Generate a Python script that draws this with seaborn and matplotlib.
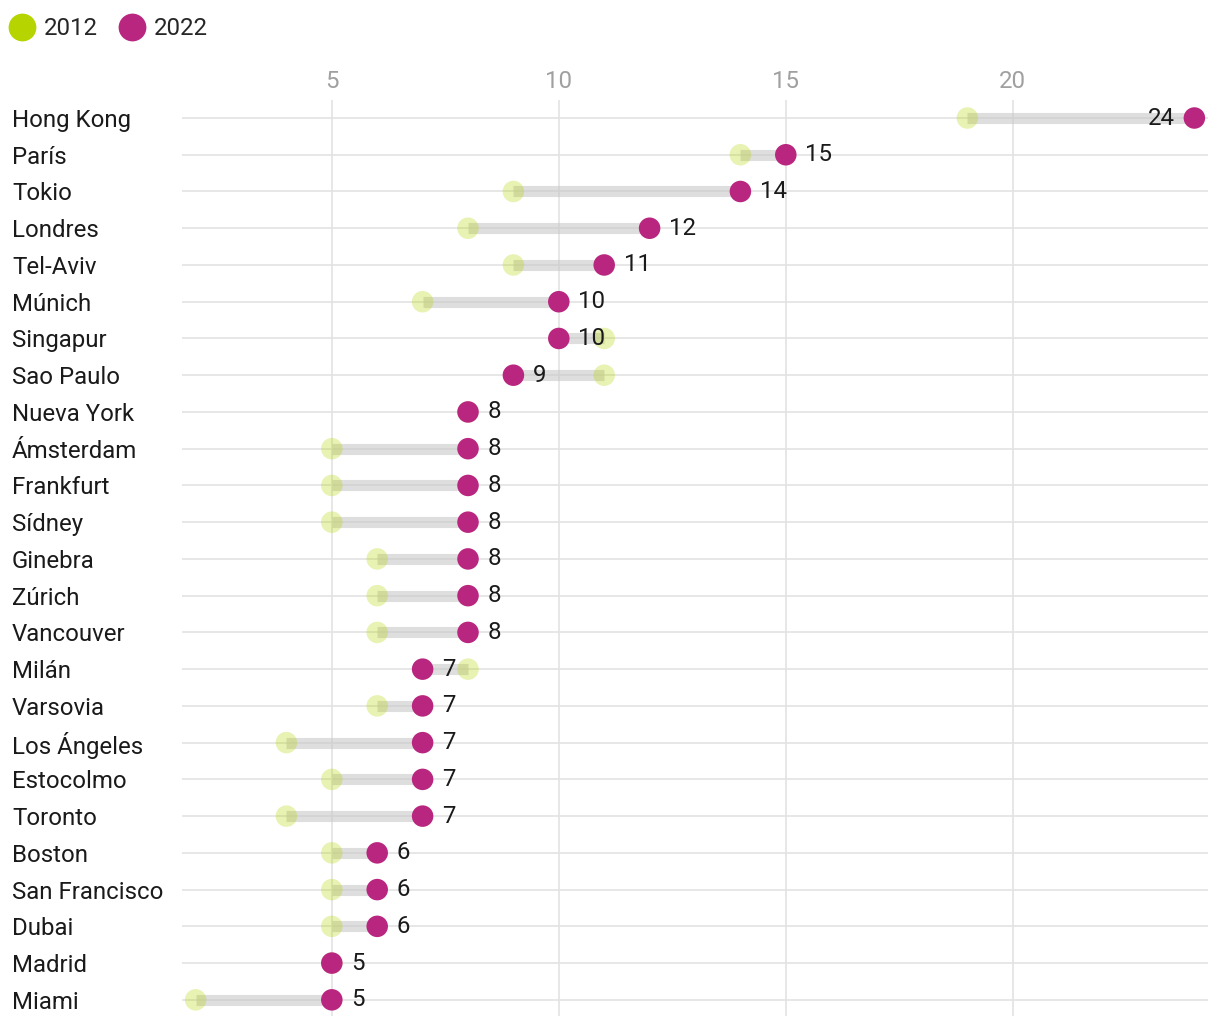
import matplotlib
matplotlib.use("Agg")
import matplotlib.pyplot as plt
from matplotlib.lines import Line2D
import seaborn as sns
import pandas as pd

cities = ["Hong Kong", "París", "Tokio", "Londres", "Tel-Aviv", "Múnich", "Singapur",
          "Sao Paulo", "Nueva York", "Ámsterdam", "Frankfurt", "Sídney", "Ginebra",
          "Zúrich", "Vancouver", "Milán", "Varsovia", "Los Ángeles", "Estocolmo",
          "Toronto", "Boston", "San Francisco", "Dubai", "Madrid", "Miami"]
v2012 = [19, 14, 9, 8, 9, 7, 11, 11, 8, 5, 5, 5, 6, 6, 6, 8, 6, 4, 5, 4, 5, 5, 5, 5, 2]
v2022 = [24, 15, 14, 12, 11, 10, 10, 9, 8, 8, 8, 8, 8, 8, 8, 7, 7, 7, 7, 7, 6, 6, 6, 5, 5]
xticks = [5, 10, 15, 20]

C2012 = "#b5d400"
C2022 = "#b8267f"
FS = 17.3

sns.set_theme(style="white")
plt.rcParams["font.family"] = ["Roboto", "DejaVu Sans"]

df = pd.DataFrame({"city": cities, "y2012": v2012, "y2022": v2022})
df["pos"] = range(len(df))

fig = plt.figure(figsize=(12.2, 10.26), dpi=100)
ax = fig.add_axes([182/1220, 1 - 1016/1026, (1208-182)/1220, (1016-100)/1026])

# grid
for t in xticks:
    ax.axvline(t, color="#e3e3e3", lw=1.2, zorder=0)
for p in df["pos"]:
    ax.axhline(p, color="#e3e3e3", lw=1.2, zorder=0)

ax.hlines(df["pos"], df["y2012"], df["y2022"], color="#c8c8c8", alpha=0.6, lw=8, zorder=1)

sns.scatterplot(data=df, x="y2012", y="pos", ax=ax, color=C2012, alpha=0.3, s=240,
                edgecolor="none", zorder=2, legend=False)
sns.scatterplot(data=df, x="y2022", y="pos", ax=ax, color=C2022, s=240,
                edgecolor="none", zorder=3, legend=False)

for _, r in df.iterrows():
    if r["y2022"] >= r["y2012"] and r["y2022"] > 20:
        ax.annotate(str(r["y2022"]), (r["y2022"], r["pos"]), xytext=(-14, 0),
                    textcoords="offset points", ha="right", va="center",
                    fontsize=FS, color="#1a1a1a", zorder=4)
    else:
        ax.annotate(str(r["y2022"]), (r["y2022"], r["pos"]), xytext=(14, 0),
                    textcoords="offset points", ha="left", va="center",
                    fontsize=FS, color="#1a1a1a", zorder=4)

ax.set_xlim(1.70, 24.30)
ax.set_ylim(24.44, -0.49)
ax.xaxis.tick_top()
ax.set_xticks(xticks)
ax.set_xticklabels([str(t) for t in xticks], fontsize=FS, color="#a0a0a0")
ax.tick_params(axis="x", length=0, pad=5)
ax.set_yticks(df["pos"])
ax.set_yticklabels(df["city"], fontsize=FS, color="#1a1a1a", ha="left", va="center_baseline")
ax.tick_params(axis="y", length=0, pad=(182-12)*0.72)
ax.set_xlabel("")
ax.set_ylabel("")
for s in ax.spines.values():
    s.set_visible(False)

handles = [Line2D([], [], marker="o", ls="none", markersize=20, color=C2012, markeredgewidth=0),
           Line2D([], [], marker="o", ls="none", markersize=20, color=C2022, markeredgewidth=0)]
fig.legend(handles, ["2012", "2022"], loc="upper left", bbox_to_anchor=(10/1220, 1 - 17/1026),
           ncol=2, frameon=False, fontsize=FS, handlelength=1.0, handletextpad=0.4,
           columnspacing=0.93, borderaxespad=0, borderpad=0)

fig.savefig("out.png", dpi=100)
